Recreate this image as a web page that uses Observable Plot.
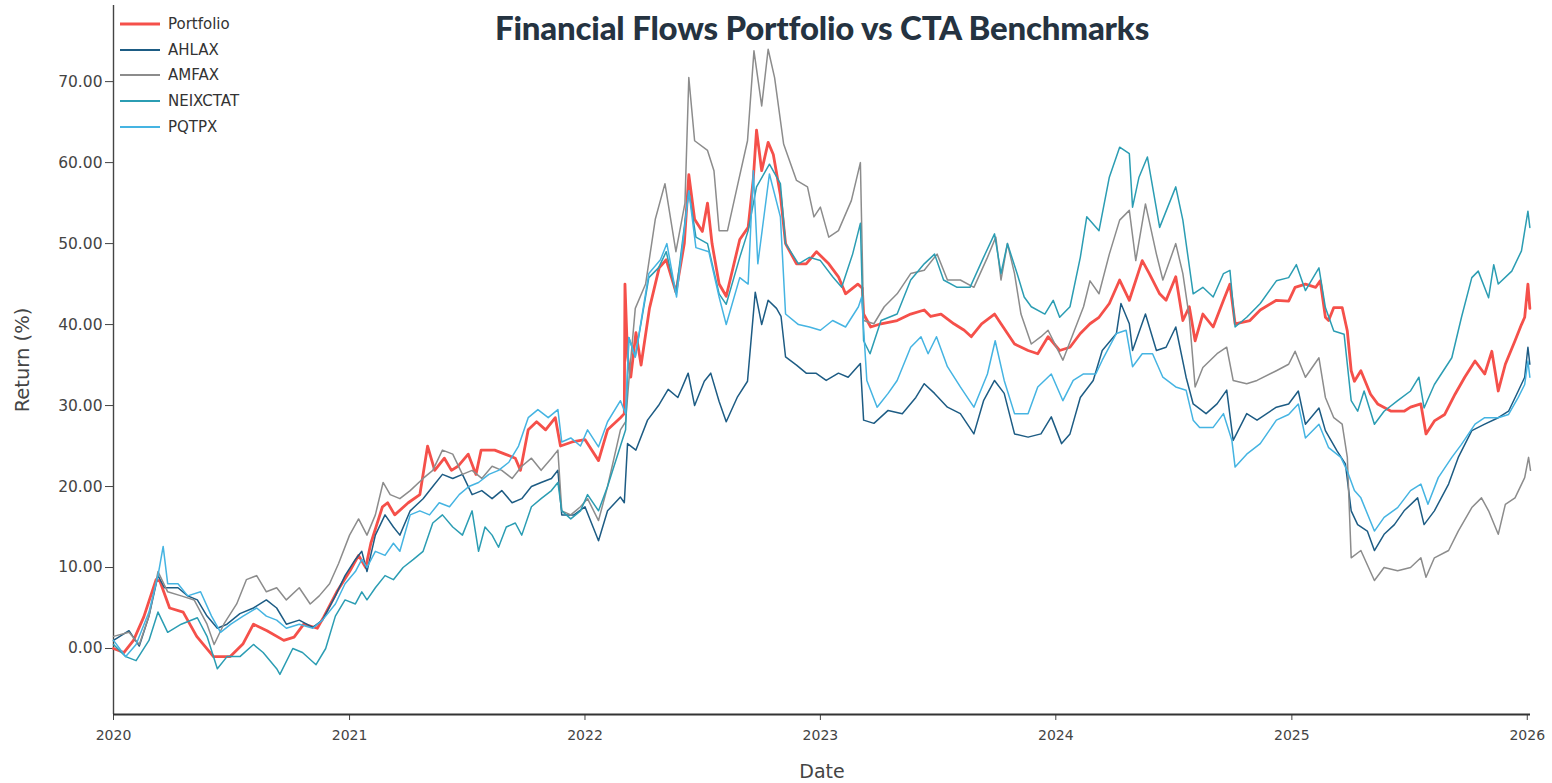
<!DOCTYPE html>
<html><head><meta charset="utf-8">
<script src="https://cdn.jsdelivr.net/npm/d3@7"></script>
<script src="https://cdn.jsdelivr.net/npm/@observablehq/plot@0.6"></script>
<style>
html,body{margin:0;padding:0;background:#fff;}
#wrap{position:relative;width:1552px;height:783px;overflow:hidden;}
#title{position:absolute;top:7px;left:822px;transform:translateX(-50%);white-space:nowrap;font-family:Lato,"Open Sans",sans-serif;font-weight:900;font-size:33px;line-height:40px;color:#253341;letter-spacing:-0.2px;}
#legend{position:absolute;left:120px;top:11px;font-family:"DejaVu Sans",Verdana,sans-serif;font-size:15px;color:#333;}
.row{display:flex;align-items:center;height:25.7px;}
.row svg{margin-right:8px;}
</style></head>
<body><div id="wrap"><div id="chart"></div><div id="title">Financial Flows Portfolio vs CTA Benchmarks</div><div id="legend"></div></div>
<script>
const seriesNames = ["Portfolio","AHLAX","AMFAX","NEIXCTAT","PQTPX"];
const seriesColors = ["#f5504a","#1d5c84","#8c8c8c","#2b9db3","#45b4e2"];
const seriesWidths = [2.8,1.5,1.5,1.5,1.5];
const yTickValues = [0,10,20,30,40,50,60,70];
const xTickYears = ["2020","2021","2022","2023","2024","2025","2026"];

const portfolio = [["2020-01-01",0],["2020-01-17",-0.5],["2020-02-01",1],["2020-02-17",3.9],["2020-03-07",8.5],["2020-03-13",8.3],["2020-03-28",5],["2020-04-18",4.5],["2020-05-09",1.5],["2020-06-04",-1],["2020-06-30",-1],["2020-07-20",0.6],["2020-08-05",3],["2020-08-26",2.2],["2020-09-21",1],["2020-10-07",1.4],["2020-10-22",3],["2020-11-12",2.5],["2020-11-22",3.9],["2020-12-13",7.1],
["2021-01-01",9.5],["2021-01-15",11.5],["2021-01-26",10],["2021-02-03",13],["2021-02-21",17.5],["2021-03-01",18],["2021-03-12",16.5],["2021-04-02",18],["2021-04-20",19],["2021-05-02",25],["2021-05-13",22],["2021-05-28",23.5],["2021-06-08",22],["2021-06-18",22.5],["2021-07-04",24],["2021-07-16",21.5],["2021-07-24",24.5],["2021-08-14",24.5],["2021-08-30",24],["2021-09-15",23.5],["2021-09-23",22],["2021-10-05",27],["2021-10-18",28],["2021-11-01",27],["2021-11-16",28.5],["2021-11-24",25],["2021-12-12",25.5],
["2022-01-01",25.8],["2022-01-22",23.2],["2022-02-05",27],["2022-02-25",28.5],["2022-03-03",29],["2022-03-04",45],["2022-03-08",36],["2022-03-13",33.5],["2022-03-21",39],["2022-03-29",35],["2022-04-11",42],["2022-04-26",47],["2022-05-07",48],["2022-05-22",44],["2022-06-04",50],["2022-06-11",58.5],["2022-06-20",53],["2022-07-02",51.5],["2022-07-10",55],["2022-07-17",50],["2022-07-28",45],["2022-08-08",43.5],["2022-08-29",50.5],["2022-09-11",52],["2022-09-19",58],["2022-09-24",64],["2022-10-02",59],["2022-10-12",62.5],["2022-10-20",61],["2022-10-31",56],["2022-11-08",50],["2022-11-25",47.5],["2022-12-10",47.5],["2022-12-26",49],
["2023-01-14",47.5],["2023-01-29",45.9],["2023-02-09",43.8],["2023-02-28",45],["2023-03-07",44.5],["2023-03-09",41.3],["2023-03-20",39.7],["2023-04-05",40.1],["2023-04-30",40.5],["2023-05-21",41.3],["2023-06-11",41.8],["2023-06-21",41],["2023-07-07",41.3],["2023-07-27",40.1],["2023-08-12",39.3],["2023-08-23",38.5],["2023-09-08",40.1],["2023-09-28",41.3],["2023-10-08",40.1],["2023-10-29",37.6],["2023-11-19",36.8],["2023-12-04",36.4],["2023-12-20",38.5],
["2024-01-07",36.8],["2024-01-23",37.2],["2024-02-08",38.9],["2024-02-23",40.1],["2024-03-08",40.9],["2024-03-24",42.6],["2024-04-09",45.5],["2024-04-24",43],["2024-05-14",47.9],["2024-05-25",46.3],["2024-06-10",43.8],["2024-06-20",43],["2024-07-05",45.9],["2024-07-16",40.5],["2024-07-26",42.2],["2024-08-04",38],["2024-08-16",41.3],["2024-09-01",39.7],["2024-09-17",43],["2024-09-27",45],["2024-10-05",40.1],["2024-10-28",40.5],["2024-11-13",41.8],["2024-12-08",43],["2024-12-27",42.9],
["2025-01-06",44.6],["2025-01-22",45],["2025-02-07",44.6],["2025-02-14",45.4],["2025-02-22",40.9],["2025-02-27",40.5],["2025-03-07",42.1],["2025-03-20",42.1],["2025-03-28",39.2],["2025-04-03",34.3],["2025-04-08",33],["2025-04-18",34.3],["2025-05-03",31.4],["2025-05-14",30.2],["2025-06-04",29.3],["2025-06-24",29.3],["2025-07-04",29.8],["2025-07-20",30.2],["2025-07-28",26.5],["2025-08-10",28.1],["2025-08-26",28.9],["2025-09-11",31.4],["2025-09-26",33.5],["2025-10-12",35.5],["2025-10-27",33.9],["2025-11-07",36.7],["2025-11-17",31.8],["2025-11-28",35.1],["2025-12-13",38],["2025-12-23",40],["2025-12-28",40.9],["2026-01-02",45],["2026-01-05",42]];

const ahlax = [["2020-01-01",1],["2020-01-25",2.2],["2020-02-10",0.3],["2020-02-25",4],["2020-03-10",9],["2020-03-20",7.5],["2020-04-10",7.5],["2020-04-25",6.5],["2020-05-10",6],["2020-05-25",4],["2020-06-10",2.5],["2020-06-25",3],["2020-07-15",4.3],["2020-08-05",5],["2020-08-25",6],["2020-09-10",5],["2020-09-25",3],["2020-10-15",3.5],["2020-11-05",2.6],["2020-11-20",3.5],["2020-12-10",6.5],["2020-12-25",9],
["2021-01-10",11],["2021-01-20",12],["2021-01-28",9.5],["2021-02-10",14],["2021-02-25",16.5],["2021-03-10",15],["2021-03-20",14],["2021-04-05",17],["2021-04-25",18.5],["2021-05-10",20],["2021-05-25",21.5],["2021-06-10",21],["2021-06-25",21.5],["2021-07-10",19],["2021-07-25",19.5],["2021-08-10",18.5],["2021-08-25",19.5],["2021-09-10",18],["2021-09-25",18.5],["2021-10-10",20],["2021-10-25",20.5],["2021-11-10",21],["2021-11-20",22],["2021-11-26",16.5],["2021-12-15",16.5],
["2022-01-01",17.5],["2022-01-22",13.3],["2022-02-05",17],["2022-02-25",18.7],["2022-03-03",18],["2022-03-08",25.3],["2022-03-21",24.5],["2022-04-08",28.2],["2022-04-25",30],["2022-05-10",32],["2022-05-25",31],["2022-06-10",34],["2022-06-20",30],["2022-07-05",33],["2022-07-15",34],["2022-07-28",30.5],["2022-08-08",28],["2022-08-25",31],["2022-09-10",33],["2022-09-22",44],["2022-10-02",40],["2022-10-12",43],["2022-10-25",42],["2022-11-01",41],["2022-11-08",36],["2022-11-25",35],["2022-12-10",34],["2022-12-25",34],
["2023-01-10",33.1],["2023-01-29",34],["2023-02-13",33.5],["2023-03-04",35.2],["2023-03-09",28.2],["2023-03-25",27.8],["2023-04-16",29.4],["2023-05-08",29],["2023-05-29",31],["2023-06-11",32.7],["2023-06-27",31.5],["2023-07-17",29.8],["2023-08-06",29],["2023-08-27",26.5],["2023-09-11",30.6],["2023-09-28",33.1],["2023-10-13",31.5],["2023-10-29",26.5],["2023-11-19",26.1],["2023-12-09",26.5],["2023-12-25",28.6],
["2024-01-10",25.3],["2024-01-23",26.5],["2024-02-08",31],["2024-02-28",33.1],["2024-03-13",36.8],["2024-04-04",38.9],["2024-04-11",42.6],["2024-04-24",40.1],["2024-04-29",36.8],["2024-05-19",41.3],["2024-06-05",36.8],["2024-06-20",37.2],["2024-07-05",39.7],["2024-07-21",33.5],["2024-08-01",30.2],["2024-08-21",29],["2024-09-07",30.2],["2024-09-22",31.9],["2024-10-02",25.7],["2024-10-23",29],["2024-11-08",28.2],["2024-12-08",29.8],["2024-12-27",30.2],
["2025-01-11",31.8],["2025-01-22",27.7],["2025-02-12",29.7],["2025-02-22",26.9],["2025-03-12",24.4],["2025-03-25",22.8],["2025-04-03",17],["2025-04-13",15.3],["2025-04-28",14.5],["2025-05-09",12.1],["2025-05-24",14.1],["2025-06-09",15.3],["2025-06-24",17],["2025-07-15",18.6],["2025-07-25",15.3],["2025-08-10",17],["2025-09-01",20.3],["2025-09-16",23.6],["2025-10-07",26.9],["2025-10-27",27.7],["2025-11-17",28.5],["2025-12-03",29.3],["2025-12-18",31.8],["2025-12-28",33.5],["2026-01-02",37.2],["2026-01-05",35.1]];

const amfax = [["2020-01-01",1.5],["2020-01-25",2],["2020-02-10",0.5],["2020-02-25",4],["2020-03-10",9.5],["2020-03-25",7],["2020-04-15",6.5],["2020-05-05",6],["2020-05-25",3],["2020-06-05",0.5],["2020-06-20",3],["2020-07-10",5.5],["2020-07-25",8.5],["2020-08-10",9],["2020-08-25",7],["2020-09-10",7.5],["2020-09-25",6],["2020-10-15",7.5],["2020-11-01",5.5],["2020-11-15",6.5],["2020-12-01",8],["2020-12-15",10.5],
["2021-01-01",14],["2021-01-15",16],["2021-01-28",14],["2021-02-10",16.5],["2021-02-22",20.5],["2021-03-05",19],["2021-03-20",18.5],["2021-04-05",19.5],["2021-04-25",21],["2021-05-10",22],["2021-05-25",24.5],["2021-06-10",24],["2021-06-25",21.5],["2021-07-10",22],["2021-07-25",21],["2021-08-10",22.5],["2021-08-25",22],["2021-09-10",21],["2021-09-25",22.5],["2021-10-10",23.5],["2021-10-25",22],["2021-11-10",23.5],["2021-11-20",24.5],["2021-11-26",17],["2021-12-10",16.5],["2021-12-25",17.5],
["2022-01-05",18.5],["2022-01-22",15.8],["2022-02-05",20],["2022-02-25",27],["2022-03-05",28],["2022-03-10",33],["2022-03-20",42],["2022-04-05",45],["2022-04-20",53],["2022-05-05",57.4],["2022-05-22",49],["2022-06-05",55],["2022-06-11",70.5],["2022-06-20",62.7],["2022-07-10",61.5],["2022-07-20",59],["2022-07-28",51.6],["2022-08-10",51.6],["2022-08-25",57],["2022-09-10",62.7],["2022-09-20",73.8],["2022-10-02",67],["2022-10-12",74],["2022-10-22",70.5],["2022-11-05",62.3],["2022-11-25",57.8],["2022-12-12",57],["2022-12-22",53.3],
["2023-01-01",54.5],["2023-01-14",50.8],["2023-01-29",51.6],["2023-02-18",55.3],["2023-03-04",60],["2023-03-09",40.5],["2023-03-25",40.1],["2023-04-10",42.2],["2023-04-30",43.8],["2023-05-21",46.3],["2023-06-11",46.7],["2023-07-01",48.7],["2023-07-17",45.5],["2023-08-06",45.5],["2023-08-27",44.6],["2023-09-17",48.3],["2023-09-30",50.8],["2023-10-08",45.5],["2023-10-18",50],["2023-10-29",46.3],["2023-11-08",41.3],["2023-11-24",37.6],["2023-12-09",38.5],["2023-12-20",39.3],
["2024-01-12",35.6],["2024-01-28",38.9],["2024-02-13",42.2],["2024-02-23",45.4],["2024-03-08",43.8],["2024-03-24",48.7],["2024-04-09",52.9],["2024-04-24",54.1],["2024-05-04",47.9],["2024-05-19",54.9],["2024-06-05",48.7],["2024-06-15",45.5],["2024-07-05",50],["2024-07-16",46.3],["2024-07-26",40.9],["2024-08-04",32.3],["2024-08-16",34.7],["2024-09-07",36.4],["2024-09-22",37.2],["2024-10-02",33.1],["2024-10-23",32.7],["2024-11-08",33.1],["2024-12-08",34.3],["2024-12-27",35.1],
["2025-01-06",36.7],["2025-01-22",33.5],["2025-02-12",35.9],["2025-02-22",31],["2025-03-07",28.5],["2025-03-20",27.7],["2025-03-28",23.6],["2025-04-03",11.2],["2025-04-18",12.1],["2025-05-09",8.4],["2025-05-24",10],["2025-06-14",9.6],["2025-07-04",10],["2025-07-20",11.2],["2025-07-28",8.8],["2025-08-10",11.2],["2025-09-01",12.1],["2025-09-16",14.5],["2025-10-07",17.4],["2025-10-22",18.6],["2025-11-02",17],["2025-11-17",14.1],["2025-11-28",17.8],["2025-12-13",18.6],["2025-12-28",21.1],["2026-01-03",23.6],["2026-01-06",22]];

const neixctat = [["2020-01-01",0.5],["2020-01-20",-1],["2020-02-05",-1.5],["2020-02-25",1],["2020-03-10",4.5],["2020-03-25",2],["2020-04-15",3],["2020-05-10",3.8],["2020-05-25",1.5],["2020-06-10",-2.5],["2020-06-25",-1],["2020-07-15",-1],["2020-08-05",0.5],["2020-08-20",-0.5],["2020-09-10",-2.5],["2020-09-15",-3.2],["2020-10-05",0],["2020-10-20",-0.5],["2020-11-10",-2],["2020-11-25",0],["2020-12-10",4],["2020-12-25",6],
["2021-01-10",5.5],["2021-01-20",7],["2021-01-28",6],["2021-02-10",7.5],["2021-02-25",9],["2021-03-10",8.5],["2021-03-25",10],["2021-04-10",11],["2021-04-25",12],["2021-05-10",15.5],["2021-05-25",16.5],["2021-06-10",15],["2021-06-25",14],["2021-07-10",17],["2021-07-20",12],["2021-07-30",15],["2021-08-10",14],["2021-08-20",12.5],["2021-09-01",15],["2021-09-15",15.5],["2021-09-25",14],["2021-10-10",17.5],["2021-10-25",18.5],["2021-11-10",19.5],["2021-11-20",20.5],["2021-11-26",17],["2021-12-10",16],["2021-12-25",17],
["2022-01-05",19],["2022-01-22",17],["2022-02-05",20],["2022-02-25",25],["2022-03-05",27],["2022-03-10",38.4],["2022-03-20",36],["2022-04-10",45.8],["2022-04-25",47],["2022-05-07",49],["2022-05-22",43.8],["2022-06-11",56.5],["2022-06-22",50.8],["2022-07-10",50],["2022-07-28",43.8],["2022-08-08",42.5],["2022-08-29",48.3],["2022-09-11",51.6],["2022-09-24",57],["2022-10-14",59.8],["2022-10-31",57.4],["2022-11-08",50],["2022-11-28",47.5],["2022-12-15",48.3],
["2023-01-01",47.9],["2023-01-20",45.9],["2023-02-03",44.6],["2023-02-20",48.7],["2023-03-04",52.5],["2023-03-09",38],["2023-03-19",36.4],["2023-04-05",40.5],["2023-04-30",41.3],["2023-05-21",45.5],["2023-06-11",47.5],["2023-06-27",48.7],["2023-07-11",45.5],["2023-08-01",44.6],["2023-08-21",44.6],["2023-09-11",48.3],["2023-09-28",51.2],["2023-10-08",46.3],["2023-10-18",50],["2023-11-02",46.3],["2023-11-13",43.4],["2023-11-24",42.2],["2023-12-15",41.3],["2023-12-28",43],
["2024-01-07",40.9],["2024-01-23",42.2],["2024-02-08",48.3],["2024-02-18",53.3],["2024-03-08",51.6],["2024-03-24",58.2],["2024-04-09",61.9],["2024-04-24",61.1],["2024-04-29",54.5],["2024-05-09",58.2],["2024-05-22",60.7],["2024-06-10",52],["2024-07-05",57],["2024-07-16",52.9],["2024-08-01",43.8],["2024-08-16",44.6],["2024-09-01",43.4],["2024-09-17",46.3],["2024-09-27",46.7],["2024-10-05",39.7],["2024-10-23",40.9],["2024-11-13",42.6],["2024-12-08",45.4],["2024-12-27",45.8],
["2025-01-08",47.4],["2025-01-22",44.2],["2025-02-12",47],["2025-02-22",42.1],["2025-03-07",39.2],["2025-03-23",38.8],["2025-04-03",30.6],["2025-04-13",29.3],["2025-04-23",31.8],["2025-05-09",27.7],["2025-05-24",29.3],["2025-06-14",30.6],["2025-07-04",31.8],["2025-07-17",33.5],["2025-07-25",29.7],["2025-08-10",32.6],["2025-09-06",35.9],["2025-09-21",40.9],["2025-10-07",45.8],["2025-10-17",46.6],["2025-11-02",43.3],["2025-11-10",47.4],["2025-11-17",45],["2025-12-08",46.6],["2025-12-23",49.1],["2026-01-02",54],["2026-01-05",52]];

const pqtpx = [["2020-01-01",1],["2020-01-20",-1],["2020-02-05",0.5],["2020-02-25",4.5],["2020-03-10",9],["2020-03-18",12.6],["2020-03-25",8],["2020-04-10",8],["2020-04-25",6.5],["2020-05-15",7],["2020-06-01",4],["2020-06-15",2],["2020-07-01",3],["2020-07-20",4],["2020-08-10",5],["2020-08-25",4],["2020-09-10",3.5],["2020-09-25",2.5],["2020-10-15",3],["2020-11-05",2.5],["2020-11-20",3.5],["2020-12-10",5.5],["2020-12-25",8],
["2021-01-10",9.5],["2021-01-20",11],["2021-01-28",10],["2021-02-10",12],["2021-02-25",11.5],["2021-03-10",13],["2021-03-20",12],["2021-04-05",16.5],["2021-04-20",17],["2021-05-05",16.5],["2021-05-20",18],["2021-06-05",17.5],["2021-06-20",19],["2021-07-05",20],["2021-07-20",20.5],["2021-08-05",21.5],["2021-08-20",22],["2021-09-05",23],["2021-09-20",25],["2021-10-05",28.5],["2021-10-20",29.5],["2021-11-05",28.5],["2021-11-20",29.5],["2021-11-26",25.5],["2021-12-10",26],["2021-12-25",25],
["2022-01-05",27],["2022-01-22",24.9],["2022-02-05",28],["2022-02-25",30.6],["2022-03-05",29],["2022-03-10",38.4],["2022-03-20",36],["2022-04-10",46.3],["2022-04-28",48],["2022-05-08",50],["2022-05-23",43.4],["2022-06-11",56.5],["2022-06-22",49.5],["2022-07-12",49],["2022-07-28",43.4],["2022-08-08",40],["2022-08-29",45.8],["2022-09-11",45],["2022-09-19",59],["2022-09-26",47.5],["2022-10-14",58.6],["2022-10-31",53.3],["2022-11-08",41.3],["2022-11-28",40],["2022-12-15",39.7],
["2023-01-01",39.3],["2023-01-20",40.5],["2023-02-09",39.7],["2023-03-01",42.2],["2023-03-06",43.4],["2023-03-14",33.1],["2023-03-30",29.8],["2023-04-16",31.5],["2023-04-30",33.1],["2023-05-21",37.2],["2023-06-06",38.5],["2023-06-17",36.4],["2023-06-30",38.5],["2023-07-17",34.8],["2023-08-06",32.3],["2023-08-27",29.8],["2023-09-17",33.9],["2023-09-29",38],["2023-10-13",33.1],["2023-10-29",29],["2023-11-19",29],["2023-12-04",32.3],["2023-12-25",33.9],
["2024-01-12",30.6],["2024-01-28",33.1],["2024-02-13",33.9],["2024-03-03",33.9],["2024-03-13",35.6],["2024-04-04",38.9],["2024-04-19",39.3],["2024-04-29",34.8],["2024-05-14",36.4],["2024-05-30",36.4],["2024-06-15",33.5],["2024-07-05",32.3],["2024-07-21",31.9],["2024-08-01",28.2],["2024-08-11",27.3],["2024-09-01",27.3],["2024-09-17",29],["2024-09-30",25.7],["2024-10-05",22.4],["2024-10-23",24],["2024-11-13",25.3],["2024-12-08",28.2],["2024-12-27",28.9],
["2025-01-11",30.2],["2025-01-22",26],["2025-02-12",27.7],["2025-02-27",24.8],["2025-03-18",23.6],["2025-03-28",21.9],["2025-04-08",19.5],["2025-04-18",18.6],["2025-05-09",14.5],["2025-05-24",16.2],["2025-06-14",17.4],["2025-07-04",19.5],["2025-07-20",20.3],["2025-07-31",17.8],["2025-08-16",21.1],["2025-09-06",23.6],["2025-09-21",25.2],["2025-10-12",27.7],["2025-10-27",28.5],["2025-11-17",28.5],["2025-12-03",28.9],["2025-12-18",31],["2025-12-28",32.6],["2026-01-02",35.5],["2026-01-05",33.5]];

const seriesData = [portfolio, ahlax, amfax, neixctat, pqtpx];
const parse = d3.utcParse("%Y-%m-%d");
const rows = seriesData.map(arr => arr.map(([d, v]) => ({date: parse(d), value: v})));

const xDomain = [parse("2020-01-01"), parse("2026-01-06")];
const yDomain = [-8.15, 79.4];

const lineMarks = rows.map((r, i) => Plot.line(r, {x: "date", y: "value", stroke: seriesColors[i], strokeWidth: seriesWidths[i], strokeLinejoin: "round"}));

const chart = Plot.plot({
  width: 1552, height: 783,
  marginLeft: 113, marginRight: 22, marginTop: 5, marginBottom: 69,
  style: {fontFamily: "'DejaVu Sans', Verdana, sans-serif", color: "#444", background: "#fff", overflow: "visible"},
  x: {type: "utc", domain: xDomain},
  y: {domain: yDomain},
  marks: [
    Plot.axisY({ticks: yTickValues, tickFormat: d3.format(".2f"), tickSize: 8, tickPadding: 3, fontSize: 15.5, label: null, stroke: "#444"}),
    Plot.axisX({ticks: xTickYears.map(y => parse(y + "-01-01")), tickFormat: d3.utcFormat("%Y"), tickSize: 6, tickPadding: 10, fontSize: 14, label: null, stroke: "#444"}),
    Plot.ruleX([xDomain[0]], {stroke: "#444", strokeWidth: 1.4}),
    Plot.ruleY([yDomain[0]], {stroke: "#333", strokeWidth: 2}),
    Plot.text(["Return (%)"], {frameAnchor: "left", textAnchor: "middle", lineAnchor: "middle", dx: -91, rotate: -90, fontSize: 19.5, fill: "#444"}),
    Plot.text(["Date"], {frameAnchor: "bottom", textAnchor: "middle", lineAnchor: "middle", dy: 57, fontSize: 19, fill: "#444"}),
    ...lineMarks
  ]
});
document.getElementById("chart").appendChild(chart);

const legend = document.getElementById("legend");
seriesNames.forEach((n, i) => {
  const row = document.createElement("div");
  row.className = "row";
  row.innerHTML = `<svg width="40" height="6"><line x1="0" x2="40" y1="3" y2="3" stroke="${seriesColors[i]}" stroke-width="${i === 0 ? 3 : 2}"/></svg><span>${n}</span>`;
  legend.appendChild(row);
});
</script>
</body></html>
